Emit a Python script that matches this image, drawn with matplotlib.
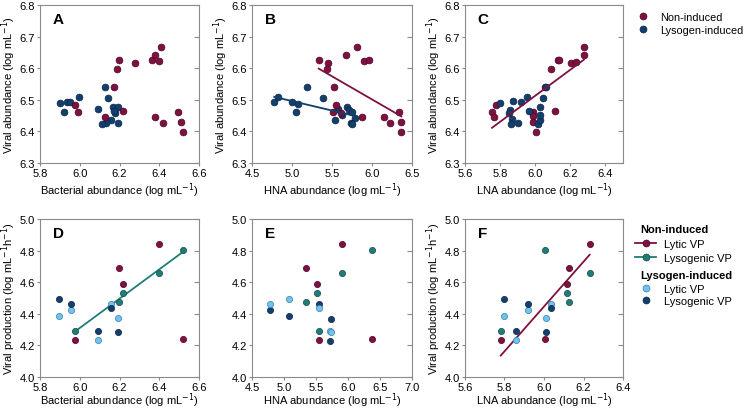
import numpy as np
import matplotlib
matplotlib.use("Agg")
import matplotlib.pyplot as plt
from matplotlib.lines import Line2D

plt.rcParams['font.family'] = ['Liberation Sans', 'DejaVu Sans']
plt.rcParams['font.size'] = 8

# ---------------- data: top row (viral abundance) ----------------
# Panel A: bacterial abundance vs viral abundance
A_non_x = [5.977, 5.991, 6.125, 6.173, 6.217, 6.187, 6.197, 6.277, 6.362, 6.379, 6.401, 6.408, 6.379, 6.419, 6.496, 6.511, 6.520]
A_non_y = [6.484, 6.460, 6.445, 6.542, 6.463, 6.599, 6.626, 6.617, 6.625, 6.641, 6.623, 6.668, 6.444, 6.427, 6.462, 6.429, 6.397]
A_lys_x = [5.899, 5.919, 5.937, 5.952, 5.994, 6.091, 6.125, 6.141, 6.167, 6.192, 6.178, 6.155, 6.133, 6.113, 6.192, 6.172]
A_lys_y = [6.489, 6.461, 6.493, 6.493, 6.509, 6.470, 6.539, 6.506, 6.476, 6.476, 6.458, 6.437, 6.428, 6.423, 6.425, 6.466]

# Panel B: HNA abundance vs viral abundance
B_non_x = [5.334, 5.446, 5.438, 5.674, 5.807, 5.898, 5.965, 5.525, 5.550, 5.517, 5.608, 5.873, 6.156, 6.222, 6.338, 6.367, 6.367]
B_non_y = [6.626, 6.616, 6.598, 6.641, 6.668, 6.623, 6.625, 6.541, 6.483, 6.462, 6.459, 6.446, 6.444, 6.427, 6.462, 6.429, 6.397]
B_lys_x = [4.778, 4.828, 4.994, 5.073, 5.052, 5.185, 5.388, 5.541, 5.571, 5.691, 5.712, 5.753, 5.786, 5.732, 5.753, 5.629]
B_lys_y = [6.494, 6.508, 6.494, 6.488, 6.461, 6.539, 6.506, 6.437, 6.471, 6.476, 6.468, 6.462, 6.443, 6.425, 6.423, 6.453]

# Panel C: LNA abundance vs viral abundance
C_non_x = [5.754, 5.767, 5.779, 5.988, 5.988, 5.988, 6.005, 6.115, 6.058, 6.092, 6.129, 6.138, 6.201, 6.233, 6.277, 6.277]
C_non_y = [6.460, 6.447, 6.484, 6.462, 6.448, 6.431, 6.398, 6.463, 6.542, 6.598, 6.626, 6.625, 6.616, 6.621, 6.668, 6.641]
C_lys_x = [5.798, 5.859, 5.849, 5.868, 5.860, 5.873, 5.900, 5.918, 5.954, 5.963, 6.013, 6.025, 6.025, 6.025, 6.045, 6.062]
C_lys_y = [6.489, 6.468, 6.458, 6.440, 6.424, 6.495, 6.426, 6.494, 6.508, 6.463, 6.424, 6.435, 6.453, 6.476, 6.505, 6.539]

# ---------------- data: bottom row (viral production) ----------------
D_x_non = [5.977, 6.195, 6.217, 6.399, 6.520]
D_lyticVP_non = [4.232, 4.689, 4.591, 4.844, 4.242]
D_lysoVP_non = [4.292, 4.476, 4.530, 4.660, 4.806]
D_x_ind = [5.897, 5.956, 6.091, 6.158, 6.192]
D_lyticVP_ind = [4.386, 4.422, 4.232, 4.464, 4.372]
D_lysoVP_ind = [4.495, 4.464, 4.292, 4.434, 4.284]

E_x_non = [5.341, 5.512, 5.553, 5.906, 6.373]
E_lyticVP_non = [4.687, 4.591, 4.232, 4.844, 4.242]
E_lysoVP_non = [4.476, 4.530, 4.292, 4.660, 4.806]
E_x_ind = [4.780, 5.081, 5.543, 5.720, 5.740]
E_lyticVP_ind = [4.461, 4.493, 4.434, 4.288, 4.284]
E_x_ind2 = [4.780, 5.081, 5.543, 5.730, 5.720]
E_lysoVP_ind = [4.422, 4.386, 4.461, 4.369, 4.229]

F_x_non = [5.781, 6.004, 6.114, 6.128, 6.231]
F_lyticVP_non = [4.232, 4.242, 4.591, 4.687, 4.844]
F_lysoVP_non = [4.292, 4.804, 4.530, 4.476, 4.660]
F_x_ind = [5.800, 5.856, 5.918, 6.011, 6.035]
F_lyticVP_ind = [4.386, 4.232, 4.422, 4.372, 4.464]
F_lysoVP_ind = [4.495, 4.292, 4.461, 4.286, 4.434]

# ---------------- style ----------------
RED = '#80103f'
BLUE = '#123f6e'
TEAL = '#1f7d78'
LBLUE = '#6ec4ee'
EDGE = {RED: '#4a0625', BLUE: '#0a2644', TEAL: '#114a47', LBLUE: '#3a7fa8'}
SPINE = '#8a8a8a'

W, H = 747, 414
fig = plt.figure(figsize=(W / 100, H / 100), dpi=100)


def ax_at(x0, y0, x1, y1):
    return fig.add_axes([x0 / W, 1 - y1 / H, (x1 - x0) / W, (y1 - y0) / H])


def style(ax, xlim, xticks, ylim, yticks, xlabel, ylabel, letter, xlpad):
    ax.set_xlim(*xlim)
    ax.set_ylim(*ylim)
    ax.set_xticks(xticks)
    ax.set_yticks(yticks)
    ax.set_xticklabels([f'{t:.1f}' for t in xticks])
    ax.set_yticklabels([f'{t:.1f}' for t in yticks])
    for s in ax.spines.values():
        s.set_color(SPINE)
        s.set_linewidth(0.8)
    ax.tick_params(axis='both', which='both', direction='out', length=2.5,
                   width=0.8, color=SPINE, labelsize=8, pad=1.0)
    ax.tick_params(axis='y', right=True, labelright=False)
    for t in ax.yaxis.get_ticklines()[1::2]:
        t.set_marker(matplotlib.lines.TICKLEFT)
        t.set_markersize(3.5)
    ax.set_xlabel(xlabel, fontsize=8, labelpad=xlpad)
    if ylabel:
        ax.set_ylabel(ylabel, fontsize=8, labelpad=1.5)
    ax.text(0.08, 0.91, letter, transform=ax.transAxes, fontsize=11,
            fontweight='bold', va='center', ha='left')


def dots(ax, x, y, c, s=24, z=3):
    ax.scatter(x, y, s=s, c=c, edgecolors=EDGE[c], linewidths=0.5, zorder=z)


def fit(ax, x, y, c, z=2):
    x = np.asarray(x)
    y = np.asarray(y)
    k, b = np.polyfit(x, y, 1)
    xs = np.array([x.min(), x.max()])
    ax.plot(xs, k * xs + b, color=c, lw=1.3, zorder=z)


VA = 'Viral abundance (log mL$^{-1}$)'
VP = 'Viral production (log mL$^{-1}$h$^{-1}$)'
topy = (6.3, 6.8)
topt = [6.3, 6.4, 6.5, 6.6, 6.7, 6.8]
boty = (4.0, 5.0)
bott = [4.0, 4.2, 4.4, 4.6, 4.8, 5.0]
TOPPAD = 1.5
BOTPAD = -1.0

# A
axA = ax_at(40, 6, 199, 164)
dots(axA, A_lys_x, A_lys_y, BLUE)
dots(axA, A_non_x, A_non_y, RED)
style(axA, (5.8, 6.6), [5.8, 6.0, 6.2, 6.4, 6.6], topy, topt,
      'Bacterial abundance (log mL$^{-1}$)', VA, 'A', TOPPAD)

# B
axB = ax_at(252, 6, 412, 164)
dots(axB, B_lys_x, B_lys_y, BLUE)
dots(axB, B_non_x, B_non_y, RED)
fit(axB, B_non_x, B_non_y, RED, z=4)
fit(axB, B_lys_x, B_lys_y, BLUE, z=4)
style(axB, (4.5, 6.5), [4.5, 5.0, 5.5, 6.0, 6.5], topy, topt,
      'HNA abundance (log mL$^{-1}$)', VA, 'B', TOPPAD)

# C
axC = ax_at(465, 6, 623, 164)
dots(axC, C_non_x, C_non_y, RED)
dots(axC, C_lys_x, C_lys_y, BLUE)
fit(axC, C_non_x, C_non_y, RED, z=4)
style(axC, (5.6, 6.5), [5.6, 5.8, 6.0, 6.2, 6.4], topy, topt,
      'LNA abundance (log mL$^{-1}$)', VA, 'C', TOPPAD)

# D
axD = ax_at(40, 220, 199, 378)
fit(axD, D_x_non, D_lysoVP_non, TEAL)
dots(axD, D_x_non, D_lyticVP_non, RED, s=20)
dots(axD, D_x_non, D_lysoVP_non, TEAL, s=20)
dots(axD, D_x_ind, D_lyticVP_ind, LBLUE, s=20)
dots(axD, D_x_ind, D_lysoVP_ind, BLUE, s=20)
style(axD, (5.8, 6.6), [5.8, 6.0, 6.2, 6.4, 6.6], boty, bott,
      'Bacterial abundance (log mL$^{-1}$)', VP, 'D', BOTPAD)

# E
axE = ax_at(252, 220, 412, 378)
dots(axE, E_x_non, E_lyticVP_non, RED, s=20)
dots(axE, E_x_non, E_lysoVP_non, TEAL, s=20)
dots(axE, E_x_ind2, E_lysoVP_ind, BLUE, s=20)
dots(axE, E_x_ind, E_lyticVP_ind, LBLUE, s=20)
style(axE, (4.5, 7.0), [4.5, 5.0, 5.5, 6.0, 6.5, 7.0], boty, bott,
      'HNA abundance (log mL$^{-1}$)', None, 'E', BOTPAD)

# F
axF = ax_at(465, 220, 623, 378)
fit(axF, F_x_non, F_lyticVP_non, RED)
dots(axF, F_x_non, F_lyticVP_non, RED, s=20)
dots(axF, F_x_non, F_lysoVP_non, TEAL, s=20)
dots(axF, F_x_ind, F_lyticVP_ind, LBLUE, s=20)
dots(axF, F_x_ind, F_lysoVP_ind, BLUE, s=20)
style(axF, (5.6, 6.4), [5.6, 5.8, 6.0, 6.2, 6.4], boty, bott,
      'LNA abundance (log mL$^{-1}$)', VP, 'F', BOTPAD)


# ---------------- legends ----------------
def mk(c, line=False):
    return Line2D([], [], color=c, lw=1.3 if line else 0, marker='o', markersize=5,
                  markerfacecolor=c, markeredgecolor=EDGE[c], markeredgewidth=0.5)


fig.legend([mk(RED), mk(BLUE)], ['Non-induced', 'Lysogen-induced'],
           loc='upper left', bbox_to_anchor=(636 / W, 1 - 13 / H),
           frameon=False, fontsize=7.8, handlelength=1.2, handletextpad=1.05,
           labelspacing=0.3, borderpad=0, borderaxespad=0)

fig.text(640 / W, 1 - 230 / H, 'Non-induced', fontsize=8, fontweight='bold',
         ha='left', va='center')
fig.legend([mk(RED, True), mk(TEAL, True)], ['Lytic VP', 'Lysogenic VP'],
           loc='upper left', bbox_to_anchor=(635 / W, 1 - 240 / H),
           frameon=False, fontsize=8, handlelength=1.9, handletextpad=0.7,
           labelspacing=0.35, borderpad=0, borderaxespad=0)
fig.text(640 / W, 1 - 276 / H, 'Lysogen-induced', fontsize=8, fontweight='bold',
         ha='left', va='center')
fig.legend([mk(LBLUE), mk(BLUE)], ['Lytic VP', 'Lysogenic VP'],
           loc='upper left', bbox_to_anchor=(635 / W, 1 - 285 / H),
           frameon=False, fontsize=8, handlelength=1.9, handletextpad=0.7,
           labelspacing=0.15, borderpad=0, borderaxespad=0)

fig.savefig('out.png', dpi=100)
